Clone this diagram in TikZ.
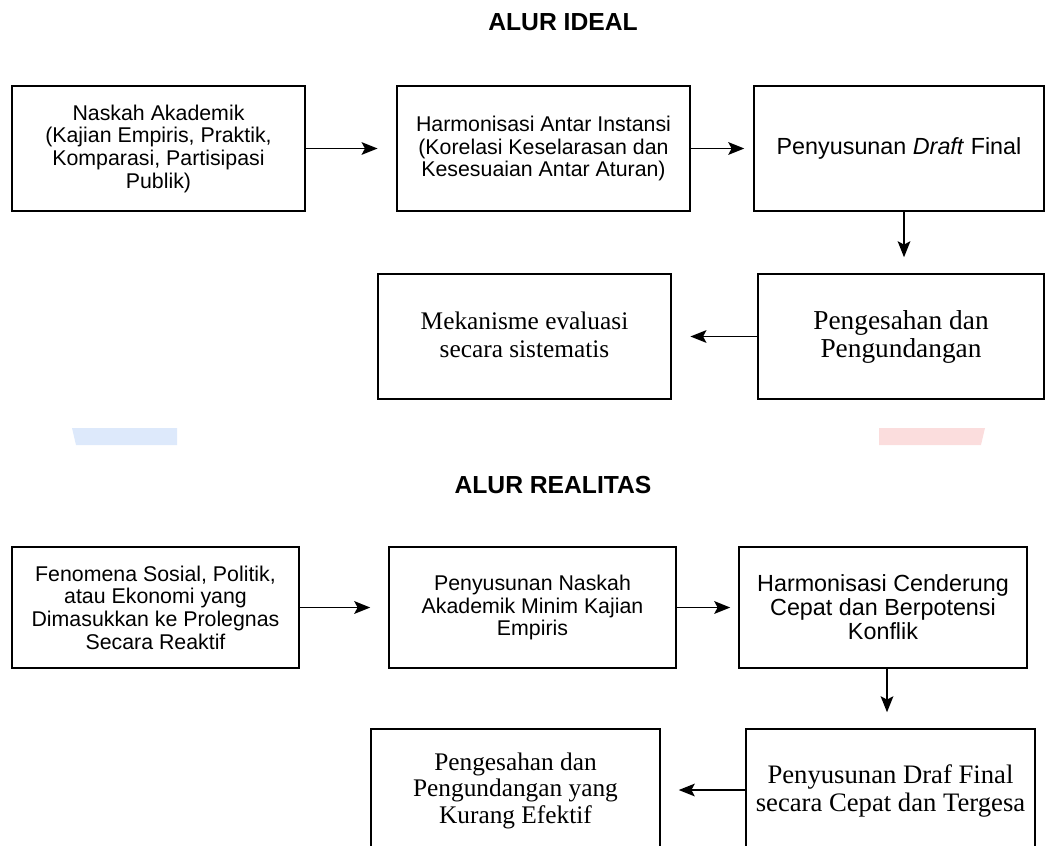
\documentclass[tikz,border=0pt]{standalone}
\usepackage{fontspec}
\setmainfont{Liberation Serif}
\setsansfont{Liberation Sans}
\usetikzlibrary{ arrows.meta, positioning }
\definecolor{barblue}{HTML}{DDE9FB}
\definecolor{barred}{HTML}{FBDDDD}
\tikzset{
>={Stealth[length=12pt,width=9.5pt,inset=2.5pt]}, % filled arrow heads
box/.style={draw, line width=1.1pt, inner sep=1pt, align=center}, % every step of the flow
sans/.style={font=\sffamily\fontsize{16}{17}\selectfont},
serif/.style={font=\rmfamily\fontsize{19}{21}\selectfont, text depth=3pt},
title/.style={font=\sffamily\bfseries\fontsize{18.5}{20}\selectfont},
link/.style={->, line width=1.35pt}, % arrows between the steps
}
\begin{document}
\begin{tikzpicture}[x=0.75pt, y=-0.75pt]% pixel grid, y runs downwards
  \useasboundingbox (0,0) rectangle (1046,846);
  \clip (0,0) rectangle (1046,846);

  % alur ideal
  \node[title] (tideal) at (563,22) {ALUR IDEAL};
  \node[box, sans, minimum width=219.75pt, minimum height=93.75pt] (i1) at (158.5,148.5)
    {Naskah Akademik\\(Kajian Empiris, Praktik,\\Komparasi, Partisipasi\\Publik)};
  \node[box, sans, minimum width=219.75pt, minimum height=93.75pt] (i2) at (543.5,148.5)
    {Harmonisasi Antar Instansi\\(Korelasi Keselarasan dan\\Kesesuaian Antar Aturan)};
  \node[box, sans, font=\sffamily\fontsize{17.5}{19}\selectfont, minimum width=217.5pt, minimum height=93.75pt] (i3) at (899,148.5)
    {Penyusunan \textit{Draft} Final};
  \node[box, serif, font=\rmfamily\fontsize{20.5}{21}\selectfont, minimum width=214.5pt, minimum height=93.75pt] (i4) at (901,336.5)
    {Pengesahan dan\\Pengundangan};
  \node[box, serif, minimum width=219.75pt, minimum height=93.75pt] (i5) at (524.5,336.5)
    {Mekanisme evaluasi\\secara sistematis};

  \draw[link, shorten >=14pt] (i1) -- (i2);
  \draw[link, shorten >=6.75pt] (i2) -- (i3);
  \draw[link, shorten >=12pt] ([xshift=3.75pt]i3.south) -- ([xshift=3.75pt]i3.south |- i4.north);
  \draw[link, shorten >=14pt] (i4) -- (i5);

  % faint bars between the two flows
  \fill[barblue] (72,428) -- (177,428) -- (177,445) -- (76,445) -- cycle;
  \fill[barred] (879,428) -- (985,428) -- (981,445) -- (879,445) -- cycle;

  % alur realitas
  \node[title] (treal) at (553,485) {ALUR REALITAS};
  \node[box, sans, minimum width=215.25pt, minimum height=90.75pt] (r1) at (155.5,607.5)
    {Fenomena Sosial, Politik,\\atau Ekonomi yang\\Dimasukkan ke Prolegnas\\Secara Reaktif};
  \node[box, sans, minimum width=215.25pt, minimum height=90.75pt] (r2) at (532.5,607.5)
    {Penyusunan Naskah\\Akademik Minim Kajian\\Empiris};
  \node[box, sans, font=\sffamily\fontsize{17.5}{18}\selectfont, minimum width=216pt, minimum height=90.75pt] (r3) at (883,607.5)
    {Harmonisasi Cenderung\\Cepat dan Berpotensi\\Konflik};
  \node[box, serif, font=\rmfamily\fontsize{20}{21}\selectfont, minimum width=216.75pt, minimum height=91.5pt] (r4) at (890.5,790)
    {Penyusunan Draf Final\\secara Cepat dan Tergesa};
  \node[box, serif, font=\rmfamily\fontsize{19}{20}\selectfont, minimum width=216.75pt, minimum height=91.5pt] (r5) at (515.5,790)
    {Pengesahan dan\\Pengundangan yang\\Kurang Efektif};

  \draw[link, shorten >=13.5pt] (r1) -- (r2);
  \draw[link, shorten >=6pt] (r2) -- (r3);
  \draw[link, shorten >=12pt] ([xshift=3pt]r3.south) -- ([xshift=3pt]r3.south |- r4.north);
  \draw[link, shorten >=13.5pt] (r4.west) -- (r4.west -| r5.east);
\end{tikzpicture}
\end{document}
